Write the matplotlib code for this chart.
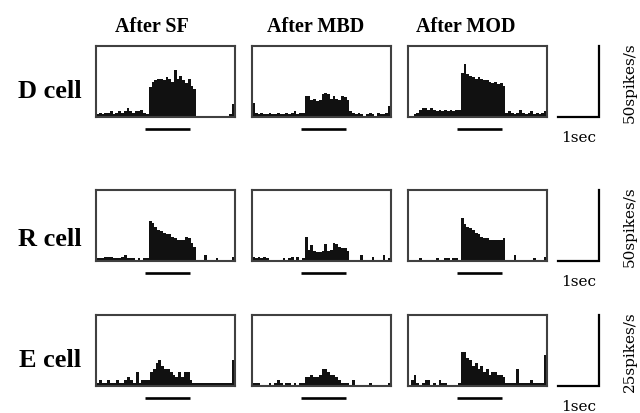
import numpy as np
import matplotlib
matplotlib.use("Agg")
import matplotlib.pyplot as plt
import matplotlib.transforms as mtransforms

# ---------------- data ----------------
conditions = ["After SF", "After MBD", "After MOD"]
cells = ["D cell", "R cell", "E cell"]
scale_labels = ["50spikes/s", "50spikes/s", "25spikes/s"]
y_max = [50, 50, 25]          # spikes/s (panel full height)
duration = 3.4                # seconds shown per panel
stim_on, stim_off = 1.2, 2.3  # stimulus period (s)

D_SF = [2, 3, 2, 3, 3, 4, 2, 3, 4, 3, 4, 6, 4, 3, 4, 4, 5, 3, 2,
        21, 25, 26, 27, 27, 26, 28, 27, 25, 33, 27, 29, 26, 24, 27, 22, 20,
        1, 1, 1, 1, 1, 1, 1, 1, 1, 1, 1, 1, 2, 9]
D_MBD = [10, 3, 2, 3, 2, 2, 3, 2, 2, 3, 2, 2, 3, 2, 3, 4, 2, 3, 3,
         15, 15, 12, 13, 11, 12, 16, 17, 16, 13, 15, 13, 12, 15, 14, 12,
         4, 3, 2, 3, 2, 1, 2, 3, 2, 1, 3, 2, 2, 3, 8]
D_MOD = [1, 1, 2, 3, 5, 6, 6, 5, 6, 5, 4, 5, 4, 5, 4, 5, 4, 5, 5,
         31, 37, 30, 29, 28, 27, 28, 27, 26, 26, 25, 24, 25, 23, 24, 22,
         3, 4, 3, 2, 3, 5, 3, 2, 3, 4, 2, 3, 2, 3, 4]
R_SF = [2, 2, 2, 3, 3, 3, 2, 2, 2, 3, 4, 2, 2, 2, 1, 2, 1, 2, 2,
        28, 27, 24, 22, 21, 20, 19, 19, 17, 16, 15, 15, 15, 17, 16, 13, 10,
        1, 1, 1, 4, 1, 1, 1, 2, 1, 1, 1, 1, 1, 3]
R_MBD = [3, 2, 3, 2, 3, 2, 1, 1, 1, 1, 1, 2, 1, 2, 3, 1, 3, 1, 2,
         17, 8, 11, 7, 6, 6, 7, 12, 7, 8, 13, 12, 10, 9, 9, 7,
         1, 1, 1, 1, 4, 1, 1, 1, 3, 1, 1, 1, 4, 1, 2]
R_MOD = [1, 1, 1, 1, 2, 1, 1, 1, 1, 1, 2, 1, 1, 2, 2, 1, 2, 2, 1,
         30, 26, 24, 23, 22, 20, 19, 17, 16, 16, 15, 15, 15, 15, 15, 16,
         1, 1, 1, 4, 1, 1, 1, 1, 1, 1, 2, 1, 1, 1, 3]
E_SF = [1, 2, 1, 1, 2, 1, 1, 2, 1, 1, 2, 3, 2, 1, 5, 1, 2, 2, 2,
        5, 6, 8, 9, 7, 6, 6, 5, 4, 3, 5, 3, 5, 5, 2, 1,
        1, 1, 1, 1, 1, 1, 1, 1, 1, 1, 1, 1, 1, 9]
E_MBD = [1, 1, 1, 0, 0, 0, 1, 0, 1, 2, 1, 0, 1, 1, 0, 1, 0, 1, 1,
         3, 3, 4, 3, 3, 4, 6, 6, 5, 4, 4, 3, 2, 1, 1, 1,
         0, 2, 0, 0, 0, 0, 0, 1, 0, 0, 0, 0, 0, 0, 1]
E_MOD = [0, 2, 4, 1, 0, 1, 2, 2, 0, 1, 0, 2, 1, 1, 0, 0, 0, 0, 1,
         12, 12, 10, 9, 7, 8, 6, 7, 5, 6, 4, 5, 5, 4, 4, 3,
         1, 1, 1, 1, 6, 1, 1, 1, 1, 2, 1, 1, 1, 1, 11]

data = [[D_SF, D_MBD, D_MOD],
        [R_SF, R_MBD, R_MOD],
        [E_SF, E_MBD, E_MOD]]

# ---------------- layout (pixels) ----------------
W, H = 640, 414
fig = plt.figure(figsize=(W / 100, H / 100), dpi=100)
fig.patch.set_facecolor("white")

col_left = [96, 252, 408]
panel_w = 139
row_top = [47, 191, 316]
panel_h = 71
scale_left, scale_w = 558, 41
label_frac = [0.38, 0.32, 0.38]


def rect(x, y, w, h):
    return [x / W, 1 - (y + h) / H, w / W, h / H]


title_x = [152, 316, 466]
for t, x in zip(conditions, title_x):
    fig.text(x / W, 1 - 27 / H, t, ha="center", va="center",
             fontsize=14.5, fontweight="bold", family="Liberation Serif")

for r in range(3):
    for c in range(3):
        ax = fig.add_axes(rect(col_left[c], row_top[r], panel_w, panel_h))
        vals = np.asarray(data[r][c], dtype=float)
        edges = np.linspace(0, duration, len(vals) + 1)
        ax.stairs(vals, edges, fill=True, color="#111111", linewidth=0)
        ax.set_xlim(0, duration)
        ax.set_ylim(0, y_max[r])
        ax.set_xticks([])
        ax.set_yticks([])
        for sp in ax.spines.values():
            sp.set_color("#404040")
            sp.set_linewidth(1.5)
        trans = mtransforms.blended_transform_factory(ax.transData, ax.transAxes)
        ax.plot([stim_on, stim_off], [-0.17, -0.17], color="black", lw=1.9,
                transform=trans, clip_on=False, solid_capstyle="butt")
        if c == 0:
            fig.text(50 / W, 1 - (row_top[r] + panel_h * (1 - label_frac[r])) / H,
                     cells[r], ha="center", va="center", fontsize=19,
                     fontweight="bold", family="Liberation Serif")

    # scale bar
    sax = fig.add_axes(rect(scale_left, row_top[r], scale_w, panel_h))
    sax.set_xlim(0, 1)
    sax.set_ylim(0, y_max[r])
    sax.axis("off")
    sax.plot([0, 1, 1], [0, 0, y_max[r]], color="black", lw=1.6,
             clip_on=False, solid_joinstyle="miter")
    sax.text(0.5, -0.28, "1sec", transform=sax.transAxes, ha="center",
             va="center", fontsize=11, family="DejaVu Serif")
    fig.text(630 / W, 1 - (row_top[r] + panel_h / 2) / H, scale_labels[r],
             rotation=90, ha="center", va="center", fontsize=11,
             family="DejaVu Serif")

fig.savefig("out.png", dpi=100, facecolor="white")
